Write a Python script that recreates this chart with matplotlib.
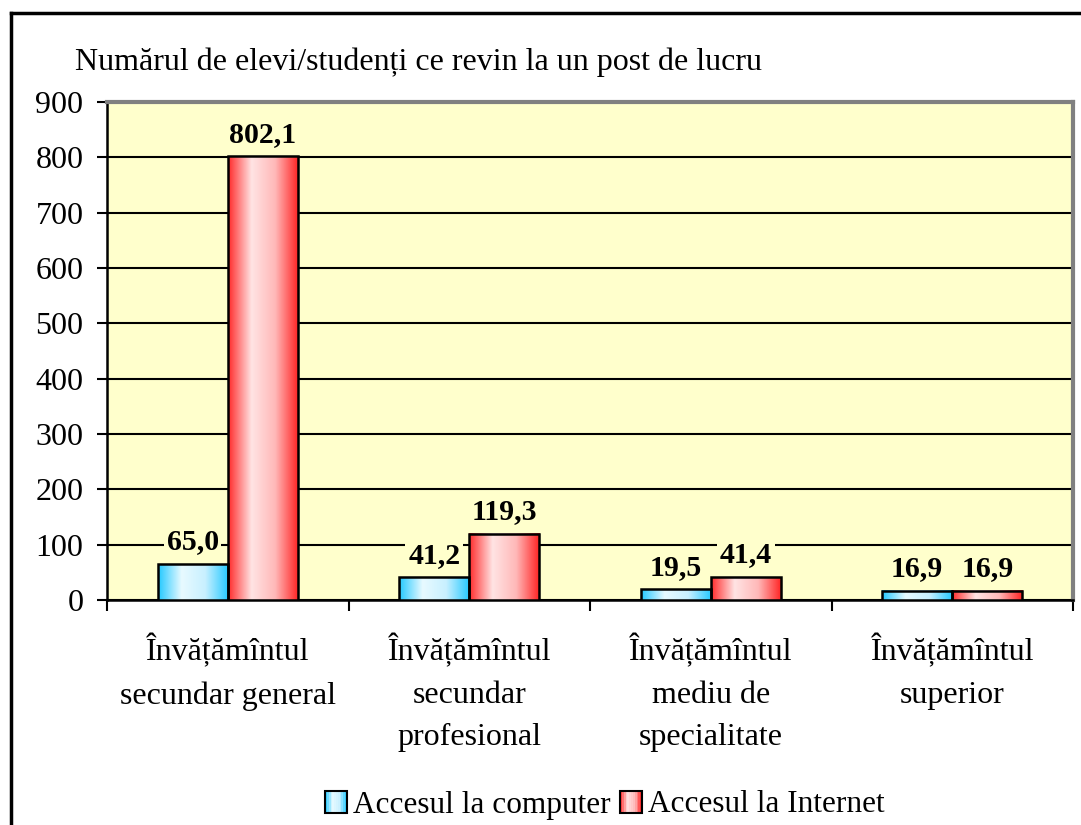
import matplotlib.pyplot as plt
import numpy as np
from matplotlib.colors import LinearSegmentedColormap
from matplotlib.patches import Rectangle
from matplotlib.legend_handler import HandlerBase

plt.rcParams['font.family'] = ['Liberation Serif', 'DejaVu Serif']

categories = ['Învățămîntul\nsecundar general', 'Învățămîntul\nsecundar\nprofesional',
              'Învățămîntul\nmediu de\nspecialitate', 'Învățămîntul\nsuperior']
computer = [65.0, 41.2, 19.5, 16.9]
internet = [802.1, 119.3, 41.4, 16.9]
series_names = ['Accesul la computer', 'Accesul la Internet']
yticks = [0, 100, 200, 300, 400, 500, 600, 700, 800, 900]
ylabel_text = 'Numărul de elevi/studenți ce revin la un post de lucru'

bg = '#FFFFCC'
blue_cmap = LinearSegmentedColormap.from_list('b', ['#22C8FF', '#E8FAFF', '#C8F0FF', '#22C8FF'])
red_cmap = LinearSegmentedColormap.from_list('r', ['#FF2A2A', '#FFE4E4', '#FFB8B8', '#FF2020'])
grad = np.linspace(0, 1, 256).reshape(1, -1)

fig = plt.figure(figsize=(10.81, 8.25), dpi=100)
ax = fig.add_axes([107 / 1081, 1 - 600 / 825, 966 / 1081, 498 / 825])
ax.set_facecolor(bg)

# cadrul exterior
fig.add_artist(plt.Line2D([11 / 1081, 11 / 1081], [0, 1 - 13 / 825], color='black', lw=2.5))
fig.add_artist(plt.Line2D([11 / 1081, 1], [1 - 13 / 825, 1 - 13 / 825], color='black', lw=2.5))

w = 0.29
x = np.arange(len(categories))
for i in range(len(categories)):
    for vals, cmap, off in [(computer, blue_cmap, -w / 2), (internet, red_cmap, w / 2)]:
        x0 = x[i] + off - w / 2
        v = vals[i]
        ax.imshow(grad, cmap=cmap, extent=[x0, x0 + w, 0, v], aspect='auto', zorder=3)
        ax.add_patch(Rectangle((x0, 0), w, v, fill=False, edgecolor='black', lw=1.8, zorder=4))
        ax.annotate(f'{v:.1f}'.replace('.', ','), (x[i] + off, v), xytext=(0, 10.5),
                    textcoords='offset points', ha='center', va='baseline',
                    fontsize=21.5, fontweight='bold', zorder=5,
                    bbox=dict(facecolor=bg, edgecolor='none', pad=2))

ax.set_xlim(-0.5, 3.5)
ax.set_ylim(0, 900)
ax.set_yticks(yticks)
ax.yaxis.grid(True, color='black', lw=1.5, zorder=1)
ax.set_axisbelow(True)
ax.tick_params(axis='y', labelsize=23, length=7, width=1.5, pad=10)
ax.set_xticks([-0.5, 0.5, 1.5, 2.5, 3.5])
ax.set_xticklabels([])
ax.set_xticks(x, minor=True)
ax.set_xticklabels(categories, minor=True, fontsize=23, linespacing=1.6, va='top')
ax.tick_params(axis='x', which='major', length=8, width=1.5)
ax.tick_params(axis='x', which='minor', length=0, pad=24)
ax.spines['left'].set_linewidth(1.8)
ax.spines['bottom'].set_linewidth(1.8)
ax.spines['top'].set_color('#808080')
ax.spines['top'].set_linewidth(3)
ax.spines['right'].set_color('#808080')
ax.spines['right'].set_linewidth(3)

fig.text(75 / 1081, 1 - 62 / 825, ylabel_text, fontsize=23, va='center', ha='left')


class GradHandler(HandlerBase):
    def __init__(self, cmap):
        super().__init__()
        self.cmap = cmap

    def create_artists(self, legend, orig_handle, xdescent, ydescent, width, height, fontsize, trans):
        s = height * 1.0
        x0 = (width - s) / 2 - xdescent
        y0 = (height - s) / 2 - ydescent
        arts = []
        n = 12
        for k in range(n):
            arts.append(Rectangle((x0 + s * k / n, y0), s / n + 0.3, s, facecolor=self.cmap((k + 0.5) / n),
                                  edgecolor='none', transform=trans))
        arts.append(Rectangle((x0, y0), s, s, fill=False, edgecolor='black', lw=1.5, transform=trans))
        return arts


h1 = Rectangle((0, 0), 1, 1)
h2 = Rectangle((0, 0), 1, 1)
fig.legend([h1, h2], series_names, loc='center', bbox_to_anchor=(605 / 1081, 1 - 805 / 825),
           ncol=2, frameon=False, fontsize=22.5, handlelength=0.7, handletextpad=0.2, columnspacing=0.3,
           handler_map={h1: GradHandler(blue_cmap), h2: GradHandler(red_cmap)})

fig.savefig('out.png', dpi=100)
